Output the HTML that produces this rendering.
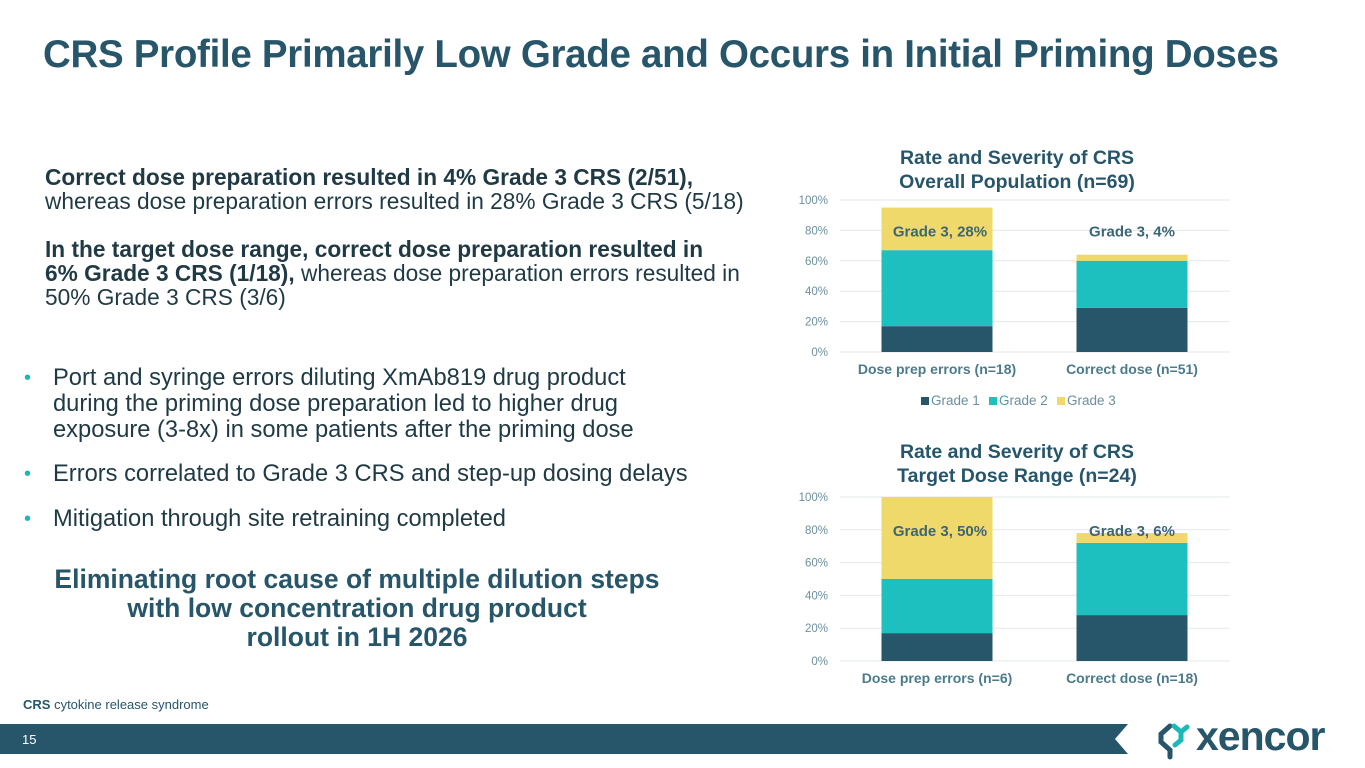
<!DOCTYPE html>
<html><head><meta charset="utf-8">
<style>
body{margin:0;width:1365px;height:768px;overflow:hidden;background:#fff;font-family:"Liberation Sans",Arial,sans-serif;position:relative}
.abs{position:absolute}
h1{position:absolute;left:43px;top:33px;margin:0;font-size:38.5px;font-weight:bold;color:#27566a;letter-spacing:-0.3px;white-space:nowrap}
.p{color:#1f3a45;font-size:22.7px;line-height:24px;white-space:nowrap}
.b{font-weight:bold}
ul{margin:0;padding:0;list-style:none}
li{position:relative;padding-left:31px;font-size:23.7px;line-height:26px;color:#1f3a45;white-space:nowrap}
li:before{content:"•";position:absolute;left:2px;color:#1cb8b8;font-size:20px}
</style></head><body>
<h1>CRS Profile Primarily Low Grade and Occurs in Initial Priming Doses</h1>
<div class="abs p" style="left:45px;top:165px">
<span class="b">Correct dose preparation resulted in 4% Grade 3 CRS (2/51),</span><br>whereas dose preparation errors resulted in 28% Grade 3 CRS (5/18)<br><br>
<span class="b">In the target dose range, correct dose preparation resulted in<br>6% Grade 3 CRS (1/18),</span> whereas dose preparation errors resulted in<br>50% Grade 3 CRS (3/6)</div>
<ul class="abs" style="left:22px;top:365px">
<li>Port and syringe errors diluting XmAb819 drug product<br>during the priming dose preparation led to higher drug<br>exposure (3-8x) in some patients after the priming dose</li>
<li style="margin-top:18px">Errors correlated to Grade 3 CRS and step-up dosing delays</li>
<li style="margin-top:19px">Mitigation through site retraining completed</li>
</ul>
<div class="abs b" style="left:7px;top:565px;width:700px;text-align:center;color:#27566a;font-size:26.5px;line-height:29px">Eliminating root cause of multiple dilution steps<br>with low concentration drug product<br>rollout in 1H 2026</div>
<div class="abs" style="left:23px;top:697px;font-size:13px;color:#27566a"><b>CRS</b> cytokine release syndrome</div>
<svg class="abs" style="left:0;top:724px" width="1140" height="31"><polygon points="0,0 1128,0 1115,15 1128,30 0,30" fill="#27566a"/><text x="22" y="20" fill="#fff" font-size="13" font-family="Liberation Sans">15</text></svg>
<svg class="abs" style="left:1150px;top:712px" width="210" height="52">
<path d="M20 14 L11 22 L11 30 L20 38 L20 45" stroke="#27566a" stroke-width="5" fill="none" stroke-linecap="round"/>
<path d="M24 14 L31 20 L31 28 L25 33 M31 20 L37 15" stroke="#1cb8b8" stroke-width="5" fill="none" stroke-linecap="round"/>
<text x="46" y="38" fill="#27566a" font-size="41" font-weight="bold" font-family="Liberation Sans" letter-spacing="-1">xencor</text></svg>
<svg id="chart" class="abs" style="left:0;top:0" width="1365" height="768"></svg>
<script>
const categories1=["Dose prep errors (n=18)","Correct dose (n=51)"];
const grade1a=[17,29];
const grade2a=[50,31];
const grade3a=[28,4];
const labels1=["Grade 3, 28%","Grade 3, 4%"];
const categories2=["Dose prep errors (n=6)","Correct dose (n=18)"];
const grade1b=[17,28];
const grade2b=[33,44];
const grade3b=[50,6];
const labels2=["Grade 3, 50%","Grade 3, 6%"];
const ticks=[0,20,40,60,80,100];
const colors=["#27566a","#1ebfbf","#efd96a"];
const NS="http://www.w3.org/2000/svg";
const svg=document.getElementById('chart');
function mk(t,a,txt){const e=document.createElementNS(NS,t);for(const k in a)e.setAttribute(k,a[k]);if(txt!==undefined)e.textContent=txt;svg.appendChild(e);return e;}
function draw(id,titleLines,titleY,top,bottom,cats,series,labels){
 const y=v=>bottom-(bottom-top)*v/100;
 const xc=[937,1132],bw=111;
 titleLines.forEach((t,i)=>{const e=mk('text',{x:1017,y:titleY+i*24,'text-anchor':'middle','font-size':19.5,'font-weight':'bold',fill:'#27566a','font-family':'Liberation Sans'},t);
 
 });
 ticks.forEach(t=>{const l=mk('line',{x1:840,x2:1230,y1:y(t),y2:y(t),stroke:'#e3e8ea','stroke-width':1});
 
 
 const tx=mk('text',{x:828,y:y(t)+4,'text-anchor':'end','font-size':11.5,fill:'#6b8f9c','font-family':'Liberation Sans'},t+'%');
 
 });
 cats.forEach((c,i)=>{let base=0;
  series.forEach((s,k)=>{const r=mk('rect',{x:xc[i]-bw/2,y:y(base+s[i]),width:bw,height:y(base)-y(base+s[i]),fill:colors[k]});
  
  
  base+=s[i];});
  const lb=mk('text',{x:xc[i]+(i==0?3:0),y:y(80)+6,'text-anchor':'middle','font-size':15,'font-weight':'bold',fill:'#3d6675','font-family':'Liberation Sans'},labels[i]);
  
  
  const ct=mk('text',{x:xc[i],y:bottom+22,'text-anchor':'middle','font-size':14,'font-weight':'bold',fill:'#4b7b8b','font-family':'Liberation Sans'},c);
  
  });
}
draw('chart-overall',["Rate and Severity of CRS","Overall Population (n=69)"],164,200,352,categories1,[grade1a,grade2a,grade3a],labels1);
draw('chart-target',["Rate and Severity of CRS","Target Dose Range (n=24)"],458,497,661,categories2,[grade1b,grade2b,grade3b],labels2);
const legendNames=["Grade 1","Grade 2","Grade 3"];
let lx=921;
legendNames.forEach((n,k)=>{const r=mk('rect',{x:lx,y:397,width:8,height:8,fill:colors[k]});


const t=mk('text',{x:lx+10,y:405,'font-size':13.5,fill:'#6b8f9c','font-family':'Liberation Sans'},n);


lx+=68;});
</script>
</body></html>
